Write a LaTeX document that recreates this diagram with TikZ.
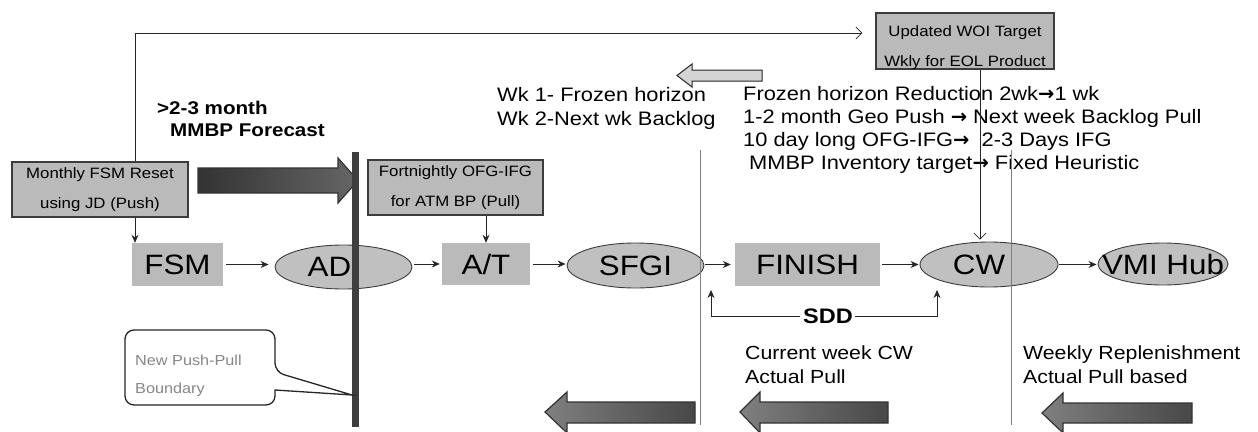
\documentclass[tikz,border=0pt]{standalone}
\usepackage{fontspec}
\setmainfont{Liberation Sans}[FakeStretch=1.12]
\newfontfamily\arrfont{DejaVu Sans}
\newcommand\rarr{{\arrfont\bfseries →}}
\usetikzlibrary{arrows.meta,shapes.geometric}
\definecolor{boxgray}{RGB}{186,186,186}
\definecolor{ellgray}{RGB}{192,192,192}
\definecolor{edge}{RGB}{60,60,60}
\definecolor{barcol}{RGB}{62,62,62}
\definecolor{lightarr}{RGB}{212,212,212}
\definecolor{callgray}{RGB}{135,135,135}
\begin{document}
\begin{tikzpicture}[x=1pt,y=-1pt,
  rowbox/.style={rectangle, fill=boxgray, inner sep=0pt, font=\fontsize{28}{30}\selectfont},
  ell/.style={ellipse, fill=ellgray, draw=edge, line width=0.9pt, inner sep=0pt},
  rowtxt/.style={inner sep=0pt, font=\fontsize{28}{30}\selectfont},
  notebox/.style={rectangle, fill=boxgray, draw=edge, line width=1.1pt, inner sep=0pt, align=center, font=\fontsize{15}{30}\selectfont},
  txt/.style={anchor=west, align=left, inner sep=0pt, font=\fontsize{19.5}{23.3}\selectfont},
  conn/.style={-{Stealth[length=8pt,width=7pt]}, line width=0.8pt, draw=black!85},
  openarr/.style={-{Straight Barb[length=6pt,width=12pt]}, line width=0.7pt, draw=black!85},
  divider/.style={draw=black!50, line width=0.8pt},
  darkarr/.style={draw=black!80, line width=1.2pt},
]
\useasboundingbox (0,0) rectangle (1258,431);

\coordinate (tl) at (135,33);
\coordinate (wx) at (980,0);
\coordinate (sddl) at (711,290);
\coordinate (sddr) at (937,290);

% text blocks
\node[txt, font=\bfseries\fontsize{18.4}{22}\selectfont] (fc) at (157,119) {>2-3 month\\\hspace*{13pt}MMBP Forecast};
\node[txt] (wk) at (497,108.5) {Wk 1- Frozen horizon\\Wk 2-Next wk Backlog};
\node[txt] (chg) at (743,130) {Frozen horizon Reduction 2wk\rarr1 wk\\1-2 month Geo Push \rarr{} Next week Backlog Pull\\10 day long OFG-IFG\rarr\ \ 2-3 Days IFG\\\hspace*{6pt}MMBP Inventory target\rarr{} Fixed Heuristic};
\node[txt, font=\fontsize{19}{24}\selectfont] (cur) at (745,365) {Current week CW\\Actual Pull};
\node[txt, font=\fontsize{19}{24}\selectfont] (wkr) at (1023,365) {Weekly Replenishment\\Actual Pull based};

% note boxes
\node[notebox, minimum width=176pt, minimum height=55pt] (mon) at (100,189.5) {Monthly FSM Reset\\using JD (Push)};
\node[notebox, minimum width=175pt, minimum height=55pt] (fort) at (455.5,187.5) {Fortnightly OFG-IFG\\for ATM BP (Pull)};
\node[notebox, minimum width=178pt, minimum height=56pt] (woi) at (965,41) {};
\begin{scope}
  \clip (woi.south west) rectangle (woi.north east);
  \node[inner sep=0pt, align=center, font=\fontsize{15}{30}\selectfont] (woit) at (965,48) {Updated WOI Target\\Wkly for EOL Product};
\end{scope}

% feedback line
\draw[openarr, shorten >=13pt] (mon.north -| tl) -- (tl) -- (tl -| woi.west);

% row nodes
\node[rowbox, minimum width=91pt, minimum height=43pt] (fsm) at (177.5,264.5) {FSM};
\node[ell, minimum width=137pt, minimum height=44pt, label={[rowtxt, xshift=-14pt]center:AD}] (ad) at (343.5,267) {};
\node[rowbox, minimum width=88pt, minimum height=42pt] (at) at (486,264) {A/T};
\node[ell, minimum width=137pt, minimum height=45pt, label={[rowtxt]center:SFGI}] (sfgi) at (635.5,265.5) {};
\node[rowbox, minimum width=145pt, minimum height=43pt] (finish) at (807.5,264.5) {FINISH};
\node[ell, minimum width=138pt, minimum height=45pt, label={[rowtxt, xshift=-10pt]center:CW}] (cw) at (989,264.5) {};
\node[ell, minimum width=130pt, minimum height=42pt, label={[rowtxt]center:VMI Hub}] (vmi) at (1163,264) {};

% connectors
\draw[conn, shorten <=3pt, shorten >=6pt] (fsm.east) -- (fsm.east -| ad.west);
\draw[conn, shorten <=2pt, shorten >=2pt] (ad.east |- at.west) -- (at.west);
\draw[conn, shorten <=3pt, shorten >=1pt] (at.east) -- (at.east -| sfgi.west);
\draw[conn, shorten <=1pt, shorten >=4pt] (sfgi.east |- finish.west) -- (finish.west);
\draw[conn, shorten <=2pt, shorten >=1pt] (finish.east) -- (finish.east -| cw.west);
\draw[conn, shorten <=1pt, shorten >=1pt] (cw.east) -- (cw.east -| vmi.west);
\draw[conn] (mon.south -| tl) -- (fsm.north -| tl);
\draw[conn] (fort.south -| at.north) -- (at.north);

% SDD
\node[inner sep=0pt, font=\bfseries\fontsize{21}{24}\selectfont] (sdd) at (828,316) {SDD};
\draw[conn, shorten <=3pt] (sdd.west) -| (sddl);
\draw[conn, shorten <=2pt] (sdd.east) -| (sddr);

% big right arrow and boundary bar
\path[darkarr, left color=black!80, right color=black!60] (198,168) -- (338,168) -- (338,158) -- (358,180.5) -- (338,203) -- (338,193) -- (198,193) -- cycle;
\fill[barcol] (352,152) rectangle (359,427);

% dividers
\draw[divider] (700,150) -- (700,425);
\draw[divider] (1011,150) -- (1011,425);

% WOI to CW
\draw[openarr, shorten >=2pt] (woi.south -| wx) -- (cw.north -| wx);

% light top arrow
\path[draw=black!85, line width=1pt, fill=lightarr] (677,75.5) -- (692,64) -- (692,70) -- (762,70) -- (762,81) -- (692,81) -- (692,87) -- cycle;

% bottom dark arrows
\path[darkarr, left color=black!50, right color=black!72] (545,412) -- (567,392) -- (567,402) -- (695,402) -- (695,423) -- (567,423) -- (567,433) -- cycle;
\path[darkarr, left color=black!50, right color=black!72] (740,412) -- (760,392) -- (760,402) -- (888,402) -- (888,423) -- (760,423) -- (760,433) -- cycle;
\path[darkarr, left color=black!50, right color=black!72] (1042,413) -- (1063,393) -- (1063,403) -- (1192,403) -- (1192,423) -- (1063,423) -- (1063,433) -- cycle;

% callout
\draw[line width=1.3pt, draw=black!85, fill=white, rounded corners=9pt] (125,330) -- (275,330) -- (275,372) [sharp corners] -- (352,395) -- (275,390) [rounded corners=9pt] -- (275,405) -- (125,405) -- cycle;
\node[anchor=west, align=left, inner sep=0pt, text=callgray, font=\fontsize{14.5}{28}\selectfont] (callout) at (135,376) {New Push-Pull\\Boundary};
\end{tikzpicture}
\end{document}
